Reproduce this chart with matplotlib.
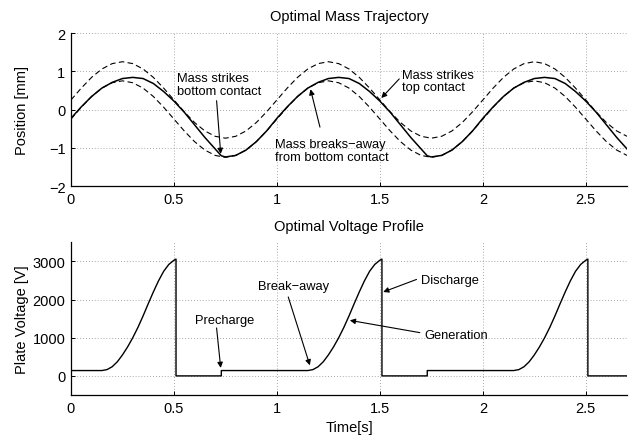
import matplotlib
matplotlib.use("Agg")
import matplotlib.pyplot as plt

plt.rcParams['font.family'] = ['Liberation Sans', 'DejaVu Sans']

# contact bounds (dashed), sampled every 0.05 s
t_bound = [0.00, 0.05, 0.10, 0.15, 0.20, 0.25, 0.30, 0.35, 0.40, 0.45,
           0.50, 0.55, 0.60, 0.65, 0.70, 0.75, 0.80, 0.85, 0.90, 0.95,
           1.00, 1.05, 1.10, 1.15, 1.20, 1.25, 1.30, 1.35, 1.40, 1.45,
           1.50, 1.55, 1.60, 1.65, 1.70, 1.75, 1.80, 1.85, 1.90, 1.95,
           2.00, 2.05, 2.10, 2.15, 2.20, 2.25, 2.30, 2.35, 2.40, 2.45,
           2.50, 2.55, 2.60, 2.65, 2.70]
top_contact = [0.25, 0.56, 0.84, 1.06, 1.20, 1.25, 1.20, 1.06, 0.84, 0.56,
               0.25, -0.06, -0.34, -0.56, -0.70, -0.75, -0.70, -0.56, -0.34, -0.06,
               0.25, 0.56, 0.84, 1.06, 1.20, 1.25, 1.20, 1.06, 0.84, 0.56,
               0.25, -0.06, -0.34, -0.56, -0.70, -0.75, -0.70, -0.56, -0.34, -0.06,
               0.25, 0.56, 0.84, 1.06, 1.20, 1.25, 1.20, 1.06, 0.84, 0.56,
               0.25, -0.06, -0.34, -0.56, -0.70]
bottom_contact = [-0.25, 0.06, 0.34, 0.56, 0.70, 0.75, 0.70, 0.56, 0.34, 0.06,
                  -0.25, -0.56, -0.84, -1.06, -1.20, -1.25, -1.20, -1.06, -0.84, -0.56,
                  -0.25, 0.06, 0.34, 0.56, 0.70, 0.75, 0.70, 0.56, 0.34, 0.06,
                  -0.25, -0.56, -0.84, -1.06, -1.20, -1.25, -1.20, -1.06, -0.84, -0.56,
                  -0.25, 0.06, 0.34, 0.56, 0.70, 0.75, 0.70, 0.56, 0.34, 0.06,
                  -0.25, -0.56, -0.84, -1.06, -1.20]

# mass position (solid)
t_mass = [0.00, 0.05, 0.10, 0.15, 0.20, 0.25, 0.30, 0.35, 0.40, 0.45,
          0.50, 0.55, 0.60, 0.65, 0.70, 0.73, 0.75, 0.80, 0.85, 0.90, 0.95,
          1.00, 1.05, 1.10, 1.15, 1.20, 1.25, 1.30, 1.35, 1.40, 1.45,
          1.50, 1.55, 1.60, 1.65, 1.70, 1.73, 1.75, 1.80, 1.85, 1.90, 1.95,
          2.00, 2.05, 2.10, 2.15, 2.20, 2.25, 2.30, 2.35, 2.40, 2.45,
          2.50, 2.55, 2.60, 2.65, 2.70]
x_mass = [-0.23, 0.07, 0.34, 0.56, 0.71, 0.81, 0.84, 0.81, 0.68, 0.47,
          0.22, -0.07, -0.40, -0.73, -1.03, -1.21, -1.24, -1.20, -1.06, -0.84, -0.56,
          -0.23, 0.07, 0.34, 0.56, 0.71, 0.81, 0.84, 0.81, 0.68, 0.47,
          0.22, -0.07, -0.40, -0.73, -1.03, -1.21, -1.24, -1.20, -1.06, -0.84, -0.56,
          -0.23, 0.07, 0.34, 0.56, 0.71, 0.81, 0.84, 0.81, 0.68, 0.47,
          0.22, -0.07, -0.40, -0.73, -1.03]

# plate voltage
t_volt = [0.00, 0.15, 0.175, 0.20, 0.225, 0.25, 0.275, 0.30, 0.325, 0.35, 0.375,
          0.40, 0.425, 0.45, 0.475, 0.50, 0.51, 0.51, 0.73, 0.73,
          1.15, 1.175, 1.20, 1.225, 1.25, 1.275, 1.30, 1.325, 1.35, 1.375,
          1.40, 1.425, 1.45, 1.475, 1.50, 1.51, 1.51, 1.73, 1.73,
          2.15, 2.175, 2.20, 2.225, 2.25, 2.275, 2.30, 2.325, 2.35, 2.375,
          2.40, 2.425, 2.45, 2.475, 2.50, 2.51, 2.51, 2.70]
v_volt = [140, 140, 165, 240, 370, 550, 760, 1000, 1270, 1570, 1890,
          2200, 2490, 2740, 2920, 3030, 3060, 0, 0, 140,
          140, 165, 240, 370, 550, 760, 1000, 1270, 1570, 1890,
          2200, 2490, 2740, 2920, 3030, 3060, 0, 0, 140,
          140, 165, 240, 370, 550, 760, 1000, 1270, 1570, 1890,
          2200, 2490, 2740, 2920, 3030, 3060, 0, 0]

x_ticks = [0, 0.5, 1, 1.5, 2, 2.5]
pos_ticks = [-2, -1, 0, 1, 2]
volt_ticks = [0, 1000, 2000, 3000]

fig = plt.figure(figsize=(6.35, 4.39), dpi=100)
ax1 = fig.add_axes([0.1118, 0.574, 0.8756, 0.3485])
ax2 = fig.add_axes([0.1118, 0.098, 0.8756, 0.3478])

def style(ax):
    for s in ['top', 'right']:
        ax.spines[s].set_visible(False)
    for s in ['left', 'bottom']:
        ax.spines[s].set_linewidth(0.9)
    ax.grid(True, ls=(0, (1, 2.5)), color='0.55', lw=0.6)
    ax.set_axisbelow(True)
    ax.tick_params(direction='in', length=3, width=0.7, labelsize=10.5, pad=4)
    ax.set_xlim(0, 2.7)
    ax.set_xticks(x_ticks)
    ax.set_xticklabels(['0', '0.5', '1', '1.5', '2', '2.5'])

arrow = dict(arrowstyle='-|>', color='k', lw=0.8, mutation_scale=8, shrinkA=0, shrinkB=0)

# top panel
style(ax1)
ax1.plot(t_bound, top_contact, 'k--', lw=0.8, dashes=(5, 3))
ax1.plot(t_bound, bottom_contact, 'k--', lw=0.8, dashes=(5, 3))
ax1.plot(t_mass, x_mass, 'k-', lw=1.1)
ax1.set_ylim(-2, 2)
ax1.set_yticks(pos_ticks)
ax1.set_ylabel('Position [mm]', fontsize=10.5, va='center')
ax1.yaxis.set_label_coords(-0.088, 0.5)
ax1.text(0.5, 1.11, 'Optimal Mass Trajectory', transform=ax1.transAxes,
         ha='center', va='center', fontsize=10.5)

ax1.text(0.513, 0.65, 'Mass strikes\nbottom contact', fontsize=9.3, ha='left', va='center', linespacing=1.1)
ax1.annotate('', xy=(0.727, -1.16), xytext=(0.707, 0.23), arrowprops=arrow)
ax1.text(0.990, -1.07, 'Mass breaks\u2212away\nfrom bottom contact', fontsize=9.3, ha='left', va='center', linespacing=1.1)
ax1.annotate('', xy=(1.163, 0.53), xytext=(1.209, -0.46), arrowprops=arrow)
ax1.text(1.605, 0.745, 'Mass strikes\ntop contact', fontsize=9.3, ha='left', va='center', linespacing=1.1)
ax1.annotate('', xy=(1.507, 0.30), xytext=(1.594, 0.80), arrowprops=arrow)

# bottom panel
style(ax2)
ax2.plot(t_volt, v_volt, 'k-', lw=1.0)
ax2.set_ylim(-500, 3500)
ax2.set_yticks(volt_ticks)
ax2.set_ylabel('Plate Voltage [V]', fontsize=10.5, va='center')
ax2.yaxis.set_label_coords(-0.088, 0.5)
ax2.set_xlabel('Time[s]', fontsize=10.5, va='center')
ax2.xaxis.set_label_coords(0.5, -0.21)
ax2.text(0.5, 1.107, 'Optimal Voltage Profile', transform=ax2.transAxes,
         ha='center', va='center', fontsize=10.5)

ax2.text(0.602, 1455, 'Precharge', fontsize=9.3, ha='left', va='center')
ax2.annotate('', xy=(0.727, 209), xytext=(0.707, 1256), arrowprops=arrow)
ax2.text(0.909, 2344, 'Break\u2212away', fontsize=9.3, ha='left', va='center')
ax2.annotate('', xy=(1.160, 277), xytext=(1.055, 2067), arrowprops=arrow)
ax2.text(1.698, 2501, 'Discharge', fontsize=9.3, ha='left', va='center')
ax2.annotate('', xy=(1.516, 2198), xytext=(1.678, 2527), arrowprops=arrow)
ax2.text(1.718, 1062, 'Generation', fontsize=9.3, ha='left', va='center')
ax2.annotate('', xy=(1.354, 1455), xytext=(1.694, 1133), arrowprops=arrow)

fig.savefig('out.png', dpi=100)
